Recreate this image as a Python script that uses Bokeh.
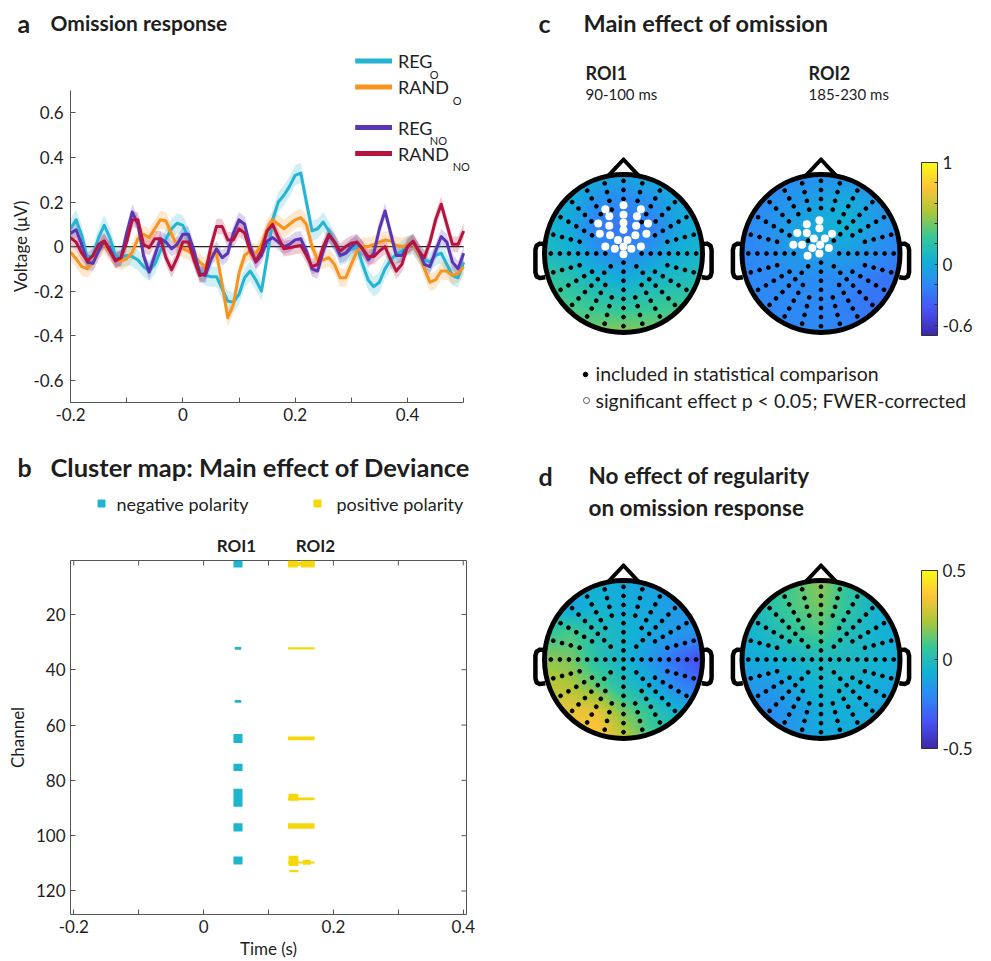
import numpy as np
from bokeh.plotting import figure
from bokeh.models import Range1d, LinearAxis, FixedTicker, Label, ColorBar, LinearColorMapper
from bokeh.layouts import row, column
from bokeh.embed import file_html
from bokeh.resources import INLINE

FONT = "Lato"
INK = "#1e1e1e"
AXC = "#555555"

# ---------------- panel a : omission response ----------------
time_s = np.round(np.arange(-0.20, 0.5001, 0.01), 2)
reg_o = [0.08, 0.12, 0.05, -0.05, -0.04, 0.04, 0.095, 0.04, -0.04, -0.05,
         -0.04, -0.045, -0.06, -0.09, -0.11, -0.08, -0.02, 0.035, 0.08, 0.105,
         0.095, 0.04, -0.05, -0.11, -0.13, -0.135, -0.135, -0.19, -0.245, -0.25,
         -0.215, -0.14, -0.11, -0.15, -0.20, -0.05, 0.12, 0.20, 0.23, 0.27,
         0.32, 0.33, 0.20, 0.07, 0.08, 0.11, 0.07, 0.02, -0.04, -0.03,
         -0.01, 0.0, -0.08, -0.15, -0.18, -0.16, -0.10, -0.06, -0.035, -0.02,
         0.005, 0.01, -0.03, -0.06, -0.07, -0.04, -0.03, -0.08, -0.13, -0.14,
         -0.07]
rand_o = [-0.025, -0.055, -0.09, -0.10, -0.07, -0.02, 0.01, -0.02, -0.055, -0.065,
          -0.055, -0.025, 0.035, 0.055, 0.04, 0.08, 0.12, 0.115, 0.055, 0.005,
          -0.01, -0.02, -0.04, -0.07, -0.09, -0.03, -0.03, -0.17, -0.32, -0.26,
          -0.12, -0.04, -0.02, -0.03, 0.01, 0.08, 0.12, 0.10, 0.08, 0.10,
          0.12, 0.13, 0.10, 0.0, -0.06, -0.06, -0.05, -0.08, -0.14, -0.14,
          -0.08, -0.02, 0.0, 0.0, 0.01, 0.02, 0.03, 0.025, 0.005, 0.0,
          0.005, 0.01, -0.03, -0.10, -0.16, -0.15, -0.11, -0.11, -0.13, -0.12,
          -0.09]
reg_no = [0.06, 0.075, 0.01, -0.07, -0.075, -0.02, 0.025, -0.01, -0.06, -0.05,
          0.06, 0.155, 0.10, -0.04, -0.115, -0.04, 0.035, 0.02, -0.01, 0.01,
          0.055, 0.055, -0.02, -0.12, -0.13, -0.06, -0.01, -0.05, -0.03, 0.06,
          0.12, 0.10, 0.0, -0.07, -0.04, 0.025, 0.04, 0.02, 0.0, 0.01,
          0.03, 0.035, -0.02, -0.10, -0.11, -0.02, 0.05, 0.02, -0.04, -0.03,
          0.0, 0.02, -0.01, -0.06, -0.03, 0.08, 0.16, 0.06, -0.04, -0.04,
          0.0, 0.02, -0.02, -0.08, -0.09, -0.02, 0.045, 0.02, -0.07, -0.10,
          -0.03]
rand_no = [0.04, 0.02, -0.03, -0.065, -0.04, 0.01, 0.025, -0.02, -0.065, -0.05,
           0.02, 0.12, 0.12, 0.01, -0.005, 0.035, 0.035, -0.05, -0.105, -0.05,
           0.02, 0.02, -0.06, -0.13, -0.12, 0.0, 0.09, 0.09, 0.03, 0.03,
           0.08, 0.06, -0.02, -0.065, -0.02, 0.07, 0.10, 0.04, -0.01, -0.005,
           0.0, 0.005, -0.04, -0.09, -0.08, 0.0, 0.055, 0.02, -0.02, 0.0,
           0.015, 0.02, -0.01, -0.045, -0.045, -0.02, 0.0, -0.06, -0.11, -0.08,
           0.0, 0.025, -0.02, -0.05, 0.02, 0.12, 0.19, 0.10, 0.01, 0.01,
           0.07]
series_values = [reg_o, rand_o, reg_no, rand_no]
series_main = ["REG", "RAND", "REG", "RAND"]
series_sub = ["O", "O", "NO", "NO"]
series_color = ["#25b4d3", "#f7931e", "#5a36b4", "#b7133f"]
series_sem = [0.045, 0.04, 0.035, 0.035]
a_xticks = [-0.2, 0, 0.2, 0.4]
a_xminor = [-0.1, 0.1, 0.3, 0.5]
a_yticks = [-0.6, -0.4, -0.2, 0, 0.2, 0.4, 0.6]

# ---------------- panel b : cluster map ----------------
neg_t_start = [0.046, 0.048, 0.048, 0.046, 0.046, 0.046, 0.046, 0.046]
neg_t_end = [0.060, 0.058, 0.058, 0.060, 0.060, 0.060, 0.060, 0.060]
neg_ch_top = [0.5, 31.8, 50.9, 63.2, 74.0, 83.0, 95.5, 107.5]
neg_ch_bottom = [3.0, 32.8, 51.9, 66.5, 76.6, 89.5, 98.5, 110.4]
pos_t_start = [0.130, 0.150, 0.130, 0.130, 0.130, 0.131, 0.130, 0.130, 0.131, 0.130, 0.153, 0.132]
pos_t_end = [0.145, 0.171, 0.171, 0.171, 0.171, 0.146, 0.171, 0.171, 0.146, 0.171, 0.165, 0.146]
pos_ch_top = [0.5, 0.5, 1.0, 31.9, 64.1, 84.8, 86.2, 95.5, 107.3, 109.3, 108.7, 112.4]
pos_ch_bottom = [3.0, 3.0, 2.4, 32.7, 65.5, 87.4, 87.2, 97.5, 111.0, 110.1, 110.5, 113.2]
b_xticks = [-0.2, 0, 0.2, 0.4]
b_xminor = [-0.1, 0.1, 0.3]
b_yticks = [20, 40, 60, 80, 100, 120]
NEG_COLOR = "#1fb5cf"
POS_COLOR = "#f5d80c"

# ---------------- panels c, d : topographies (7x7 grids, front row first) ----------------
topo_c_roi1 = [[0.05, 0.05, 0.0, -0.05, 0.0, 0.05, 0.05],
               [0.05, 0.0, -0.15, -0.2, -0.15, -0.02, 0.05],
               [0.08, -0.02, -0.25, -0.3, -0.25, -0.05, 0.05],
               [0.12, 0.05, -0.12, -0.22, -0.12, 0.02, 0.08],
               [0.25, 0.18, 0.08, 0.0, 0.08, 0.12, 0.15],
               [0.35, 0.3, 0.25, 0.22, 0.25, 0.28, 0.3],
               [0.4, 0.4, 0.42, 0.45, 0.42, 0.38, 0.35]]
topo_c_roi2 = [[-0.2, -0.2, -0.18, -0.15, -0.15, -0.18, -0.2],
               [-0.2, -0.18, -0.12, -0.05, 0.0, -0.1, -0.18],
               [-0.22, -0.15, -0.05, 0.0, 0.05, -0.08, -0.2],
               [-0.22, -0.18, -0.1, -0.08, -0.08, -0.15, -0.25],
               [-0.2, -0.2, -0.18, -0.18, -0.2, -0.28, -0.32],
               [-0.18, -0.2, -0.2, -0.2, -0.25, -0.3, -0.3],
               [-0.18, -0.2, -0.2, -0.2, -0.22, -0.25, -0.25]]
topo_d_roi1 = [[-0.1, -0.1, -0.08, -0.1, -0.12, -0.15, -0.15],
               [-0.05, -0.12, -0.05, -0.08, -0.1, -0.15, -0.15],
               [0.05, 0.1, 0.0, -0.05, -0.1, -0.15, -0.18],
               [0.18, 0.15, 0.02, -0.05, -0.15, -0.28, -0.38],
               [0.25, 0.22, 0.12, 0.0, -0.08, -0.2, -0.28],
               [0.3, 0.32, 0.32, 0.15, 0.05, -0.05, -0.1],
               [0.3, 0.35, 0.38, 0.25, 0.1, 0.0, -0.05]]
topo_d_roi2 = [[-0.05, 0.0, 0.1, 0.18, 0.05, -0.05, -0.08],
               [-0.05, 0.02, 0.1, 0.15, 0.05, -0.05, -0.1],
               [-0.08, -0.02, 0.05, 0.1, 0.0, -0.05, -0.1],
               [-0.1, -0.08, -0.05, -0.02, -0.03, -0.05, -0.08],
               [-0.15, -0.15, -0.1, -0.05, -0.05, -0.08, -0.12],
               [-0.18, -0.2, -0.15, -0.08, -0.08, -0.1, -0.15],
               [-0.15, -0.2, -0.15, -0.1, -0.1, -0.12, -0.15]]
sig_roi1_x = [-0.23, 0.0, 0.22, -0.18, 0.0, 0.17, -0.32, -0.18, 0.0, 0.16, 0.31, -0.30,
              -0.17, 0.0, 0.15, 0.29, -0.07, 0.05, -0.23, -0.11, 0.0, 0.10, 0.22, 0.0]
sig_roi1_y = [0.56, 0.61, 0.56, 0.47, 0.49, 0.47, 0.38, 0.35, 0.39, 0.35, 0.38, 0.25,
              0.23, 0.30, 0.23, 0.25, 0.17, 0.17, 0.09, 0.06, 0.09, 0.06, 0.09, -0.01]
sig_roi2_x = [-0.02, -0.18, -0.02, -0.30, -0.18, 0.14, -0.09, 0.05, -0.35, -0.24, -0.11, -0.01, 0.10, -0.17, -0.02]
sig_roi2_y = [0.42, 0.37, 0.32, 0.26, 0.26, 0.25, 0.19, 0.19, 0.11, 0.11, 0.07, 0.11, 0.07, -0.03, 0.0]
c_cbar_ticks = [-0.6, 0, 1]
c_cbar_minor = [-0.4, -0.2, 0.2, 0.4, 0.6, 0.8]
d_cbar_ticks = [-0.5, 0, 0.5]

# electrode montage (radial spokes)
spoke_angle_deg = list(range(0, 360, 15))
spoke_first_ring = [1, 5, 4, 2, 4, 5] * 4
ring_step = 0.115
n_rings = 8


def parula(n=256):
    stops = ["#3e26a8", "#4852f4", "#2e87f7", "#12b1d6", "#37c897", "#abc739", "#fec338", "#f9fb15"]
    rgb = np.array([[int(s[i:i + 2], 16) for i in (1, 3, 5)] for s in stops], float)
    pos = np.linspace(0, 1, len(stops))
    out = []
    for f in np.linspace(0, 1, n):
        r, g, b = (np.interp(f, pos, rgb[:, k]) for k in range(3))
        out.append("#%02x%02x%02x" % (int(round(r)), int(round(g)), int(round(b))))
    return out


PARULA = parula()


def tick_text(t):
    return "0" if t == 0 else ("%g" % t)


def style_axis(ax, size="17px"):
    ax.axis_line_color = AXC
    ax.axis_line_width = 1
    ax.major_tick_line_color = AXC
    ax.minor_tick_line_color = AXC
    ax.major_tick_in = 5
    ax.major_tick_out = 0
    ax.minor_tick_in = 5
    ax.minor_tick_out = 0
    ax.major_label_text_font = FONT
    ax.major_label_text_font_size = size
    ax.major_label_text_color = INK
    ax.axis_label_text_font = FONT
    ax.axis_label_text_font_size = "17px"
    ax.axis_label_text_font_style = "normal"
    ax.axis_label_text_color = INK


def add_text(p, x, y, text, size, bold=False, align="left", color=INK, angle=0.0, baseline="middle"):
    p.add_layout(Label(x=x, y=y, text=text, text_font=FONT, text_font_size=f"{size}px",
                       text_font_style="bold" if bold else "normal", text_align=align,
                       text_baseline=baseline, text_color=color, angle=angle))


def base_fig(w, h, xr, yr, **kw):
    p = figure(width=w, height=h, title=None, x_range=xr, y_range=yr,
               x_axis_location=None, y_axis_location=None, toolbar_location=None,
               output_backend="svg", background_fill_color="white",
               border_fill_color="white", **kw)
    p.grid.visible = False
    return p


def text_fig(w, h, x0, y0):
    # a text-only strip, in page pixel coordinates (y grows downwards)
    return base_fig(w, h, Range1d(x0, x0 + w), Range1d(y0 + h, y0), min_border=0,
                    outline_line_color=None)


def solo(p):
    # wrap a figure on its own so that its frame is not aligned with its neighbours
    return column(p)


# ================= panel a =================
def ax_x(X):
    return -0.2 + (X - 68) * 0.7 / 395


def ax_y(Y):
    return 0.925 - (Y - 40) * 1.625 / 362


hdr_a = text_fig(500, 40, 0, 0)
add_text(hdr_a, 17, 22, "a", 25, bold=True)
add_text(hdr_a, 50, 22, "Omission response", 21, bold=True)

ylab_a = text_fig(30, 400, 0, 40)
add_text(ylab_a, 20, 246, "Voltage (μV)", 17, align="center", angle=np.pi / 2)

pa = base_fig(470, 400, Range1d(-0.2, ax_x(500)), Range1d(-0.7, 0.925),
              min_border_left=38, min_border_right=0, min_border_top=0, min_border_bottom=38,
              outline_line_color=None)
pa.line(x=[time_s[0], time_s[-1]], y=[0, 0], line_color="#222222", line_width=1.3)
for vals, col, sem in zip(series_values, series_color, series_sem):
    v = np.array(vals)
    pa.varea(x=time_s, y1=v - sem, y2=v + sem, fill_color=col, fill_alpha=0.22)
for vals, col in zip(series_values, series_color):
    pa.line(time_s, vals, line_color=col, line_width=3, line_join="round")

xa = LinearAxis(ticker=FixedTicker(ticks=a_xticks, minor_ticks=a_xminor), bounds=(-0.2, 0.5),
                major_label_overrides={t: tick_text(t) for t in a_xticks})
style_axis(xa)
pa.add_layout(xa, "below")
ya = LinearAxis(ticker=FixedTicker(ticks=a_yticks), bounds=(-0.7, 0.7),
                major_label_overrides={t: tick_text(t) for t in a_yticks})
style_axis(ya)
ya.major_label_standoff = 7
pa.add_layout(ya, "left")

leg_y = [60.5, 86.5, 127, 153]
pa.segment(x0=[ax_x(354)] * 4, y0=[ax_y(Y) for Y in leg_y], x1=[ax_x(391)] * 4,
           y1=[ax_y(Y) for Y in leg_y], line_color=series_color, line_width=5)
for Y, main, sub in zip(leg_y, series_main, series_sub):
    add_text(pa, ax_x(397), ax_y(Y), main, 18)
    add_text(pa, ax_x(429 if main == "REG" else 452), ax_y(Y + 13), sub, 11)

# ================= panel b =================
hdr_b = text_fig(500, 115, 0, 440)
add_text(hdr_b, 17, 466, "b", 25, bold=True)
add_text(hdr_b, 50, 466, "Cluster map: Main effect of Deviance", 25.5, bold=True)
hdr_b.scatter([101], [503], marker="square", size=7, color=NEG_COLOR)
add_text(hdr_b, 116, 503, "negative polarity", 18)
hdr_b.scatter([317], [503], marker="square", size=7, color=POS_COLOR)
add_text(hdr_b, 336, 503, "positive polarity", 18)
add_text(hdr_b, 236, 545, "ROI1", 17, bold=True, align="center")
add_text(hdr_b, 315, 545, "ROI2", 17, bold=True, align="center")

B_X0, B_X1, B_Y0, B_Y1 = -0.205, 0.405, 128.5, 0.5
pb = base_fig(500, 406, Range1d(B_X0, B_X1), Range1d(B_Y0, B_Y1),
              min_border_left=70, min_border_right=34, min_border_top=5, min_border_bottom=44,
              outline_line_color=AXC, outline_line_width=1)
pb.quad(left=neg_t_start, right=neg_t_end, top=neg_ch_top, bottom=neg_ch_bottom,
        fill_color=NEG_COLOR, line_color=None)
pb.quad(left=pos_t_start, right=pos_t_end, top=pos_ch_top, bottom=pos_ch_bottom,
        fill_color=POS_COLOR, line_color=None)
bxa = LinearAxis(ticker=FixedTicker(ticks=b_xticks, minor_ticks=b_xminor), axis_label="Time (s)",
                 major_label_overrides={t: tick_text(t) for t in b_xticks})
style_axis(bxa)
bxa.axis_line_color = None
bxa.axis_label_standoff = 2
pb.add_layout(bxa, "below")
bya = LinearAxis(ticker=FixedTicker(ticks=b_yticks), axis_label="Channel")
style_axis(bya)
bya.axis_line_color = None
pb.add_layout(bya, "left")
# mirrored inward ticks on the top and right edges of the box (same tick values)
tick_len_ch = 5 * (B_Y0 - B_Y1) / 357
tick_len_t = 5 * (B_X1 - B_X0) / 396
top_ticks = b_xticks + b_xminor
pb.segment(x0=top_ticks, y0=[B_Y1] * len(top_ticks), x1=top_ticks,
           y1=[B_Y1 + tick_len_ch] * len(top_ticks), line_color=AXC, line_width=1)
pb.segment(x0=[B_X1] * len(b_yticks), y0=b_yticks, x1=[B_X1 - tick_len_t] * len(b_yticks),
           y1=b_yticks, line_color=AXC, line_width=1)

# ================= panels c and d =================
UNIT = 79.0
HEAD_CX = [0.0, 2.5]

ex, ey = [0.0], [0.0]
for a_deg, k0 in zip(spoke_angle_deg, spoke_first_ring):
    for k in range(k0, n_rings + 1):
        r = k * ring_step
        ex.append(r * np.sin(np.radians(a_deg)))
        ey.append(r * np.cos(np.radians(a_deg)))
ex, ey = np.array(ex), np.array(ey)


def field_image(grid, n=141):
    g = np.array(grid, float)[::-1]
    coarse = np.linspace(-1, 1, g.shape[0])
    fine = np.linspace(-1, 1, n)
    rows = np.array([np.interp(fine, coarse, r) for r in g])
    full = np.array([np.interp(fine, coarse, rows[:, j]) for j in range(n)]).T
    X, Y = np.meshgrid(fine, fine)
    full[X ** 2 + Y ** 2 > 1.0] = np.nan
    return full


ear_x = [0.99, 1.06, 1.10, 1.115, 1.115, 1.10, 1.06, 0.99]
ear_y = [0.12, 0.125, 0.10, 0.05, -0.24, -0.29, -0.31, -0.30]


def draw_head(p, cx, grid, mapper, sig_x=None, sig_y=None):
    p.patch([cx - 0.2, cx, cx + 0.2], [0.975, 1.19, 0.975], fill_color="white",
            line_color="black", line_width=4, line_join="round")
    for s in (-1, 1):
        p.line([cx + s * v for v in ear_x], ear_y, line_color="black", line_width=4.5, line_join="round")
    p.image(image=[field_image(grid)], x=cx - 1, y=-1, dw=2, dh=2, color_mapper=mapper)
    p.circle(x=[cx], y=[0], radius=1.0, fill_color=None, line_color="black", line_width=5)
    keep = np.ones(len(ex), bool)
    if sig_x is not None:
        sx, sy = np.array(sig_x), np.array(sig_y)
        for i in range(len(ex)):
            if np.min(np.hypot(ex[i] - sx, ey[i] - sy)) < 0.075:
                keep[i] = False
    p.scatter(cx + ex[keep], ey[keep], size=3.8, color="black")
    if sig_x is not None:
        p.scatter([cx + v for v in sig_x], sig_y, size=8, fill_color="white", line_color=None)


def c_x(X):
    return (X - 623) / UNIT


def c_y(Y):
    return (253 - Y) / UNIT


pc = base_fig(491, 440, Range1d(c_x(500), c_x(991)), Range1d(c_y(440), c_y(0)),
              min_border=0, outline_line_color=None)
map_c = LinearColorMapper(palette=PARULA, low=-0.7, high=1.0, nan_color="rgba(0,0,0,0)")
draw_head(pc, HEAD_CX[0], topo_c_roi1, map_c, sig_roi1_x, sig_roi1_y)
draw_head(pc, HEAD_CX[1], topo_c_roi2, map_c, sig_roi2_x, sig_roi2_y)
add_text(pc, c_x(538), c_y(22), "c", 25, bold=True)
add_text(pc, c_x(583), c_y(22), "Main effect of omission", 23.5, bold=True)
add_text(pc, c_x(585), c_y(72), "ROI1", 18, bold=True)
add_text(pc, c_x(585), c_y(93), "90-100 ms", 15)
add_text(pc, c_x(808), c_y(72), "ROI2", 18, bold=True)
add_text(pc, c_x(808), c_y(93), "185-230 ms", 15)
pc.scatter([c_x(585)], [c_y(374)], size=4.5, color="black")
add_text(pc, c_x(595), c_y(373), "included in statistical comparison", 19.5)
pc.scatter([c_x(586)], [c_y(400)], size=6, fill_color=None, line_color="#555555", line_width=1)
add_text(pc, c_x(595), c_y(400), "significant effect p < 0.05; FWER-corrected", 19.5)

cb_c = ColorBar(color_mapper=map_c, ticker=FixedTicker(ticks=c_cbar_ticks, minor_ticks=c_cbar_minor),
                location=(421, 105), width=16, height=173, padding=0, title=None,
                major_label_overrides={t: tick_text(t) for t in c_cbar_ticks}, major_label_text_font=FONT,
                major_label_text_font_size="17px", major_label_text_color=INK,
                bar_line_color="#333333", major_tick_line_color="#333333", major_tick_in=3,
                major_tick_out=0, minor_tick_line_color="#333333", minor_tick_in=3, minor_tick_out=0,
                background_fill_alpha=0, border_line_color=None, label_standoff=5)
pc.add_layout(cb_c)


def d_y(Y):
    return (659 - Y) / UNIT


pd_ = base_fig(491, 521, Range1d(c_x(500), c_x(991)), Range1d(d_y(961), d_y(440)),
               min_border=0, outline_line_color=None)
map_d = LinearColorMapper(palette=PARULA, low=-0.5, high=0.5, nan_color="rgba(0,0,0,0)")
draw_head(pd_, HEAD_CX[0], topo_d_roi1, map_d)
draw_head(pd_, HEAD_CX[1], topo_d_roi2, map_d)
add_text(pd_, c_x(538), d_y(475), "d", 25, bold=True)
add_text(pd_, c_x(588), d_y(475), "No effect of regularity", 22.5, bold=True)
add_text(pd_, c_x(588), d_y(507), "on omission response", 22.5, bold=True)
cb_d = ColorBar(color_mapper=map_d, ticker=FixedTicker(ticks=d_cbar_ticks),
                location=(421, 213), width=16, height=178, padding=0, title=None,
                major_label_overrides={t: tick_text(t) for t in d_cbar_ticks}, major_label_text_font=FONT,
                major_label_text_font_size="17px", major_label_text_color=INK,
                bar_line_color="#333333", major_tick_line_color="#333333", major_tick_in=3,
                major_tick_out=0, background_fill_alpha=0, border_line_color=None, label_standoff=5)
pd_.add_layout(cb_d)

left = column(solo(hdr_a), row(solo(ylab_a), solo(pa)), solo(hdr_b), solo(pb))
right = column(solo(pc), solo(pd_))
layout = row(left, right)
open("out.html", "w").write(file_html(layout, INLINE))
